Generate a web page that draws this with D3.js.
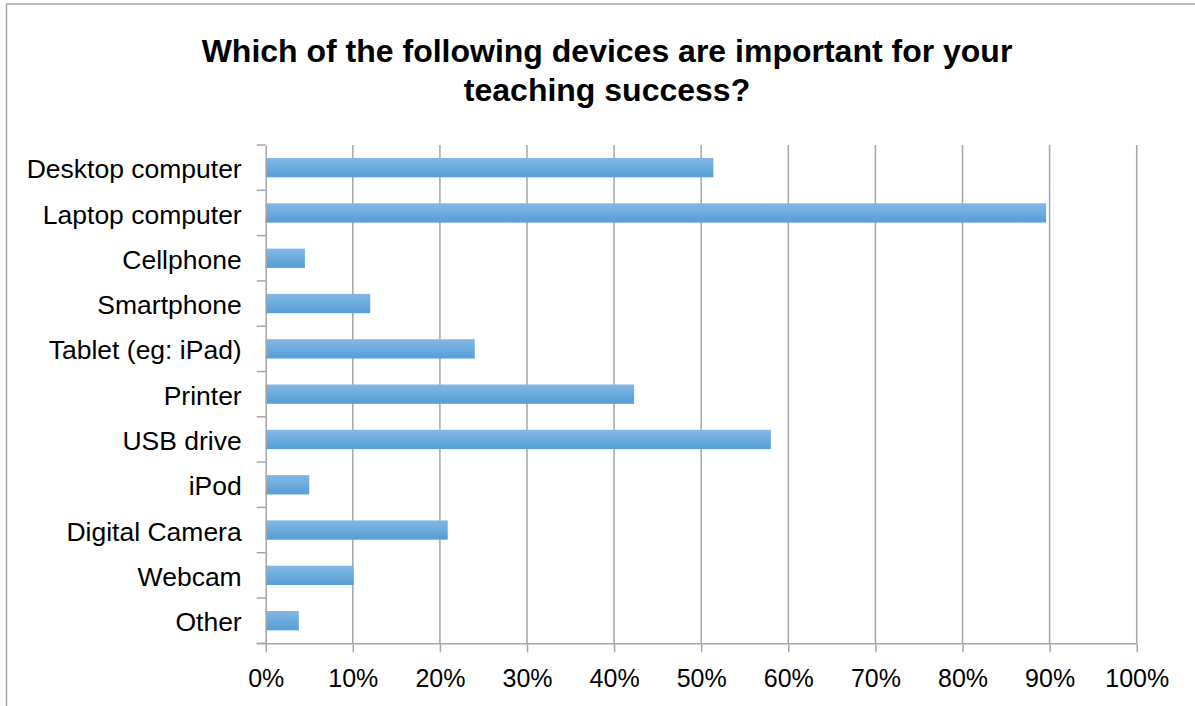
<!DOCTYPE html>
<html><head><meta charset="utf-8">
<script src="https://cdn.jsdelivr.net/npm/d3@7"></script>
<style>
html,body{margin:0;padding:0;background:#fff;}
svg{display:block;font-family:"Liberation Sans",Arial,sans-serif;}
</style></head>
<body>
<svg id="c" width="1195" height="706"></svg>
<script>
const categories = ["Desktop computer","Laptop computer","Cellphone","Smartphone","Tablet (eg: iPad)","Printer","USB drive","iPod","Digital Camera","Webcam","Other"];
const values = [0.514,0.896,0.045,0.120,0.240,0.423,0.580,0.050,0.209,0.101,0.038];
const tickValues = [0,0.1,0.2,0.3,0.4,0.5,0.6,0.7,0.8,0.9,1.0];
const titleLines = ["Which of the following devices are important for your","teaching success?"];

const svg = d3.select("#c");
const m = {left:265.7, right:1136.7, top:145, bottom:643.3};

svg.append("rect").attr("x",6.5).attr("y",4).attr("width",1300).attr("height",800)
  .attr("fill","#fff").attr("stroke","#a9a9a9").attr("stroke-width",1.5);

const defs = svg.append("defs");
const g = defs.append("linearGradient").attr("id","bar").attr("x1",0).attr("y1",0).attr("x2",0).attr("y2",1);
g.append("stop").attr("offset","0%").attr("stop-color","#85b7e4");
g.append("stop").attr("offset","100%").attr("stop-color","#549ed8");

const x = d3.scaleLinear().domain([0,1]).range([m.left,m.right]);
const y = d3.scaleBand().domain(categories).range([m.top,m.bottom]).paddingInner(0.574).paddingOuter(0.287);
const yb = d3.scaleBand().domain(categories).range([m.top,m.bottom]);

svg.append("g").selectAll("line").data(tickValues.slice(1)).join("line")
  .attr("x1",d=>x(d)).attr("x2",d=>x(d)).attr("y1",m.top).attr("y2",m.bottom)
  .attr("stroke","#a6a6a6").attr("stroke-width",1.5);

svg.append("g").selectAll("rect").data(values).join("rect")
  .attr("x",x(0)).attr("y",(d,i)=>y(categories[i]))
  .attr("width",d=>x(d)-x(0)).attr("height",y.bandwidth())
  .attr("fill","url(#bar)");

const xa = svg.append("g").attr("transform",`translate(0,${m.bottom})`)
  .call(d3.axisBottom(x).tickValues(tickValues).tickFormat(d3.format(".0%")).tickSize(9).tickSizeOuter(0).tickPadding(17));
xa.select(".domain").attr("stroke","#a6a6a6").attr("stroke-width",1.5).attr("d",`M${m.left-9},0.5H${m.right}`);
xa.selectAll(".tick line").attr("stroke","#a6a6a6").attr("stroke-width",1.5);
xa.selectAll("text").attr("font-size",25).attr("fill","#000").attr("font-family","Liberation Sans, Arial, sans-serif");

const ya = svg.append("g").attr("transform",`translate(${m.left},0)`)
  .call(d3.axisLeft(yb).tickSize(0).tickPadding(24));
ya.select(".domain").attr("stroke","#a6a6a6").attr("stroke-width",1.5);
ya.selectAll("text").attr("font-size",26.5).attr("fill","#000").attr("font-family","Liberation Sans, Arial, sans-serif").attr("dy","0.4em");
svg.append("g").selectAll("line").data(d3.range(categories.length+1)).join("line")
  .attr("x1",m.left-9).attr("x2",m.left)
  .attr("y1",i=> i<categories.length ? yb(categories[i]) : m.bottom)
  .attr("y2",i=> i<categories.length ? yb(categories[i]) : m.bottom)
  .attr("stroke","#a6a6a6").attr("stroke-width",1.5);

svg.append("g").selectAll("text").data(titleLines).join("text")
  .attr("x",607).attr("y",(d,i)=>62+i*39).attr("text-anchor","middle")
  .attr("font-size",32).attr("font-weight","bold").attr("fill","#000").text(d=>d);
</script>
</body></html>
